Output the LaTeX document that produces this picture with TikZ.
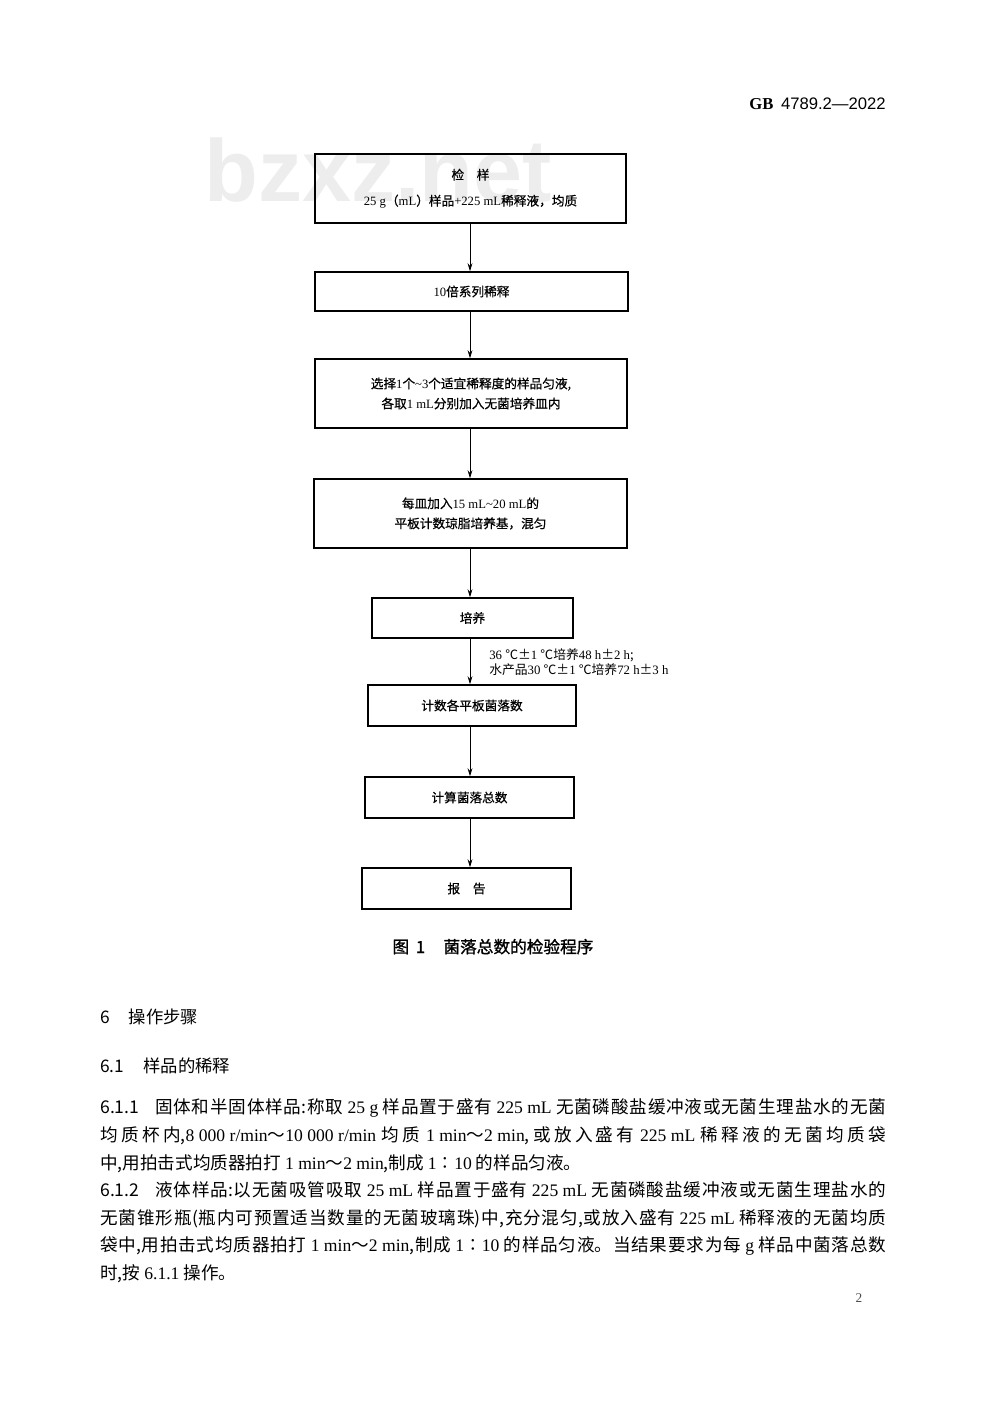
\documentclass[tikz,border=0pt]{standalone}
\usepackage{fontspec}
\setmainfont{Liberation Serif}
\newfontfamily\cjk{Noto Sans CJK SC}
\newfontfamily\cjkbold[FakeBold=1.2]{Noto Sans CJK SC}
\newfontfamily\cjksemi[FakeBold=0.6]{Noto Sans CJK SC}
\newfontfamily\sanslat{Liberation Sans}
\usetikzlibrary{arrows.meta}
\newdimen\pxu \pxu=0.75pt
\XeTeXlinebreaklocale "zh"
\XeTeXlinebreakskip=0pt plus 3pt
\newcommand\latn[1]{\mbox{\rmfamily #1}}
\newcommand\boxfont{\cjksemi\fontsize{9.5}{15}\selectfont}
\newcommand\bodyfont{\cjk\fontsize{13.2}{20.8}\selectfont}
\newcommand\jline[1]{{\parfillskip=0pt\relax #1\par}}
\begin{document}
\begin{tikzpicture}[x=0.75pt,y=-0.75pt,
  box/.style={draw, line width=1.1pt, inner sep=0pt, align=center, font=\boxfont},
  arr/.style={-{Stealth[length=6pt,width=3.6pt]}, line width=0.6pt},
  bodyline/.style={anchor=base west, inner sep=0pt, text width=589.5pt, align=justify, font=\bodyfont},
  bodylast/.style={anchor=base west, inner sep=0pt, font=\bodyfont},
  heading/.style={anchor=base west, inner sep=0pt, font=\cjk\fontsize{13}{16}\selectfont}]
\useasboundingbox (0,0) rectangle (1000,1418);
\fill[white] (0,0) rectangle (1000,1418);

% watermark
\node[text=black!7, font=\sanslat\bfseries\fontsize{66}{70}\selectfont, inner sep=0pt] (wm) at (378,170) {bzxz.net};

% header
\node[anchor=base east, inner sep=0pt, font=\fontsize{12.5}{14}\selectfont] (hdr) at (886,109) {\textbf{GB}\hspace{0.45em}{\sanslat 4789.2—2022}};

% flowchart
\coordinate (ax) at (470,0);
\node[box, minimum width=311\pxu, minimum height=69\pxu] (b1) at (470.5,188.5)
  {检\quad 样\\[4.5pt]\latn{25 g}（\latn{mL}）样品\latn{+225 mL}稀释液，均质};
\node[box, minimum width=313\pxu, minimum height=39\pxu] (b2) at (471.5,291.5)
  {\latn{10}倍系列稀释};
\node[box, minimum width=312\pxu, minimum height=69\pxu] (b3) at (471,393.5)
  {选择\latn{1}个\latn{\textasciitilde 3}个适宜稀释度的样品匀液,\\各取\latn{1 mL}分别加入无菌培养皿内};
\node[box, minimum width=313\pxu, minimum height=69\pxu] (b4) at (470.5,513.5)
  {每皿加入\latn{15 mL\textasciitilde 20 mL}的\\平板计数琼脂培养基，混匀};
\node[box, minimum width=201\pxu, minimum height=40\pxu] (b5) at (472.5,618)
  {培养};
\node[box, minimum width=208\pxu, minimum height=41\pxu] (b6) at (472,705.5)
  {计数各平板菌落数};
\node[box, minimum width=209\pxu, minimum height=41\pxu] (b7) at (469.5,797.5)
  {计算菌落总数};
\node[box, minimum width=209\pxu, minimum height=41\pxu] (b8) at (466.5,888.5)
  {报\quad 告};

\draw[arr] (b1.south -| ax) -- (b2.north -| ax);
\draw[arr] (b2.south -| ax) -- (b3.north -| ax);
\draw[arr] (b3.south -| ax) -- (b4.north -| ax);
\draw[arr] (b4.south -| ax) -- (b5.north -| ax);
\draw[arr] (b5.south -| ax) -- (b6.north -| ax);
\draw[arr] (b6.south -| ax) -- (b7.north -| ax);
\draw[arr] (b7.south -| ax) -- (b8.north -| ax);

\node[anchor=base west, inner sep=0pt, align=left, font=\cjk\fontsize{9.6}{11.3}\selectfont] (lab) at (489,674.5)
  {\latn{36 }℃±\latn{1 }℃培养\latn{48 h}±\latn{2 h};\\水产品\latn{30 }℃±\latn{1 }℃培养\latn{72 h}±\latn{3 h}};

% caption
\node[anchor=base, inner sep=0pt, font=\cjkbold\fontsize{12.5}{15}\selectfont] (cap) at (493,953)
  {图\hspace{0.4em}1\hspace{1.1em}菌落总数的检验程序};

% section headings
\node[heading] (h6) at (100,1023) {6\hspace{1.1em}操作步骤};
\node[heading] (h61) at (100,1072) {6.1\hspace{1.1em}样品的稀释};

% body text
\node[bodyline] (p1) at (100,1113) {\jline{6.1.1\hspace{0.9em}固体和半固体样品:称取 \latn{25 g} 样品置于盛有 \latn{225 mL} 无菌磷酸盐缓冲液或无菌生理盐水的无菌}};
\node[bodyline] (p2) at (100,1141) {\jline{均质杯内,\latn{8 000 r/min}～\latn{10 000 r/min} 均质 \latn{1 min}～\latn{2 min},或放入盛有 \latn{225 mL} 稀释液的无菌均质袋}};
\node[bodylast] (p3) at (100,1169) {中,用拍击式均质器拍打 \latn{1 min}～\latn{2 min},制成 \latn{1}∶\latn{10} 的样品匀液。};
\node[bodyline] (p4) at (100,1196) {\jline{6.1.2\hspace{0.9em}液体样品:以无菌吸管吸取 \latn{25 mL} 样品置于盛有 \latn{225 mL} 无菌磷酸盐缓冲液或无菌生理盐水的}};
\node[bodyline] (p5) at (100,1224) {\jline{无菌锥形瓶(瓶内可预置适当数量的无菌玻璃珠)中,充分混匀,或放入盛有 \latn{225 mL} 稀释液的无菌均质}};
\node[bodyline] (p6) at (100,1251) {\jline{袋中,用拍击式均质器拍打 \latn{1 min}～\latn{2 min},制成 \latn{1}∶\latn{10} 的样品匀液。当结果要求为每 \latn{g} 样品中菌落总数}};
\node[bodylast] (p7) at (100,1279) {时,按 \latn{6.1.1} 操作。};

% page number
\node[anchor=base, inner sep=0pt, text=black!70, font=\fontsize{10}{12}\selectfont] (pg) at (859,1302) {2};
\end{tikzpicture}
\end{document}
